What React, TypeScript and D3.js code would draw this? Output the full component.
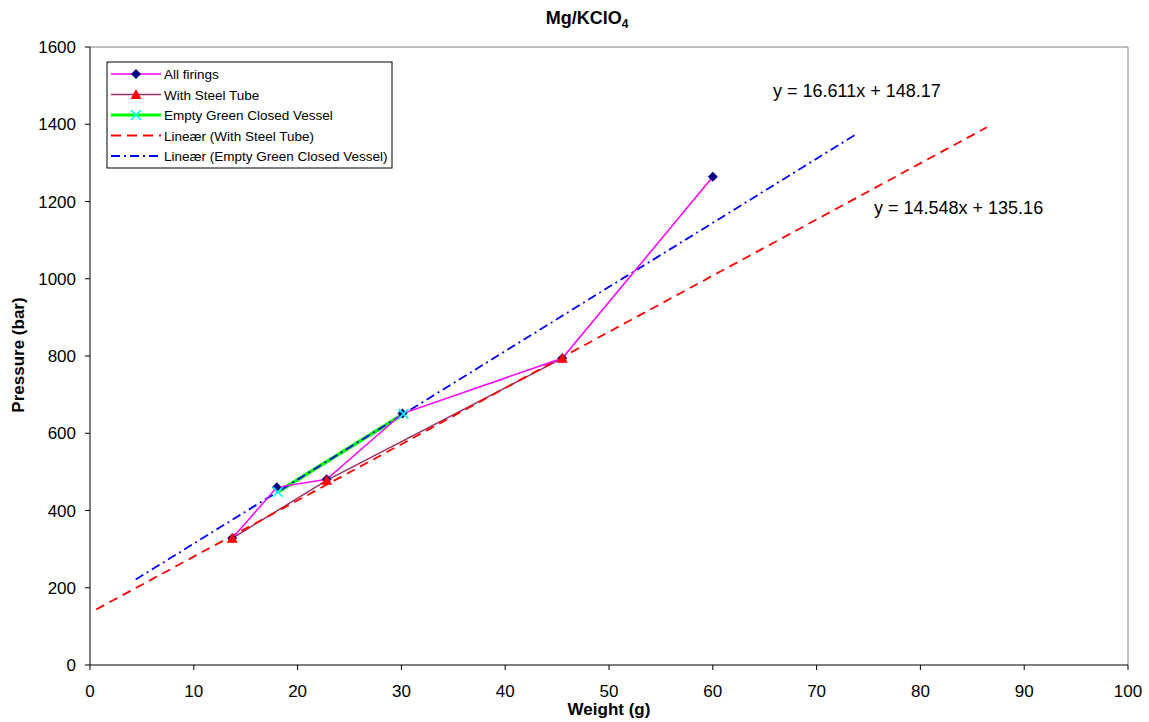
import React from "react";
import * as d3 from "d3";

const allFiringsX = [13.7, 18.0, 22.8, 30.1, 45.5, 60.0];
const allFiringsY = [328, 460, 481, 651, 794, 1264];
const steelX = [13.7, 22.8, 45.5];
const steelY = [328, 478, 794];
const vesselX = [18.1, 30.2];
const vesselY = [448, 650];
const steelFit = { slope: 14.548, intercept: 135.16, from: 0.6, to: 86.4 };
const vesselFit = { slope: 16.611, intercept: 148.17, from: 4.4, to: 73.8 };
const xTicks = [0, 10, 20, 30, 40, 50, 60, 70, 80, 90, 100];
const yTicks = [0, 200, 400, 600, 800, 1000, 1200, 1400, 1600];

const W = 1149, H = 722;
const L = 90, R = 1128, T = 47, B = 665;
const FONT = "'Liberation Sans', Arial, sans-serif";

export default function App() {
  const x = d3.scaleLinear().domain([0, 100]).range([L, R]);
  const y = d3.scaleLinear().domain([0, 1600]).range([B, T]);
  const line = d3.line<[number, number]>().x(d => x(d[0])).y(d => y(d[1]));
  const zip = (a: number[], b: number[]) => a.map((v, i) => [v, b[i]] as [number, number]);
  const fitPts = (f: typeof steelFit) => [[f.from, f.slope * f.from + f.intercept], [f.to, f.slope * f.to + f.intercept]] as [number, number][];

  const diamond = (cx: number, cy: number, k: string) => (
    <path key={k} d={`M${cx},${cy - 5}L${cx + 5},${cy}L${cx},${cy + 5}L${cx - 5},${cy}Z`} fill="#000080" />
  );
  const tri = (cx: number, cy: number, k: string) => (
    <path key={k} d={`M${cx},${cy - 5.5}L${cx + 5.5},${cy + 4.5}L${cx - 5.5},${cy + 4.5}Z`} fill="#ff0000" />
  );
  const cross = (cx: number, cy: number, k: string) => (
    <g key={k} stroke="#00ffff" strokeWidth={1.6}>
      <line x1={cx - 5} y1={cy - 5} x2={cx + 5} y2={cy + 5} />
      <line x1={cx - 5} y1={cy + 5} x2={cx + 5} y2={cy - 5} />
    </g>
  );

  const legendItems = [
    { label: "All firings", color: "#ff00ff", w: 1.5, dash: "", marker: "d" },
    { label: "With Steel Tube", color: "#993366", w: 1.5, dash: "", marker: "t" },
    { label: "Empty Green Closed Vessel", color: "#00ff00", w: 3, dash: "", marker: "x" },
    { label: "Lineær (With Steel Tube)", color: "#ff0000", w: 2, dash: "10,6", marker: "" },
    { label: "Lineær (Empty Green Closed Vessel)", color: "#0000ff", w: 2, dash: "9,4,2,4", marker: "" },
  ];

  return (
    <svg width={W} height={H} style={{ display: "block", position: "absolute", left: 0, top: 0 }} fontFamily={FONT}>
      <rect width={W} height={H} fill="#fff" />
      <text x={587} y={24} textAnchor="middle" fontSize={18} fontWeight="bold">
        Mg/KClO<tspan fontSize={12} dy={4}>4</tspan>
      </text>
      {/* frame */}
      <line x1={L} y1={T} x2={R} y2={T} stroke="#808080" />
      <line x1={R} y1={T} x2={R} y2={B} stroke="#808080" />
      <line x1={L} y1={T} x2={L} y2={B} stroke="#000" />
      <line x1={L} y1={B} x2={R} y2={B} stroke="#000" />
      {xTicks.map(t => (
        <g key={"x" + t}>
          <line x1={x(t)} y1={B} x2={x(t)} y2={B + 5} stroke="#000" />
          <text x={x(t)} y={B + 32} textAnchor="middle" fontSize={17}>{t}</text>
        </g>
      ))}
      {yTicks.map(t => (
        <g key={"y" + t}>
          <line x1={L - 5} y1={y(t)} x2={L} y2={y(t)} stroke="#000" />
          <text x={L - 14} y={y(t) + 6} textAnchor="end" fontSize={17}>{t}</text>
        </g>
      ))}
      <text x={609} y={715} textAnchor="middle" fontSize={17} fontWeight="bold">Weight (g)</text>
      <text transform={`translate(24,355) rotate(-90)`} textAnchor="middle" fontSize={17} fontWeight="bold">Pressure (bar)</text>

      {/* series */}
      <path d={line(zip(steelX, steelY)) || ""} fill="none" stroke="#993366" strokeWidth={1.5} />
      <path d={line(fitPts(steelFit)) || ""} fill="none" stroke="#ff0000" strokeWidth={1.8} strokeDasharray="9,6" />
      <path d={line(zip(vesselX, vesselY)) || ""} fill="none" stroke="#00ff00" strokeWidth={3.5} />
      <path d={line(fitPts(vesselFit)) || ""} fill="none" stroke="#0000ff" strokeWidth={1.8} strokeDasharray="9,4,2,4" />
      <path d={line(zip(allFiringsX, allFiringsY)) || ""} fill="none" stroke="#ff00ff" strokeWidth={1.5} />
      {allFiringsX.map((v, i) => diamond(x(v), y(allFiringsY[i]), "d" + i))}
      {steelX.map((v, i) => tri(x(v), y(steelY[i]), "t" + i))}
      {vesselX.map((v, i) => cross(x(v), y(vesselY[i]), "c" + i))}

      <text x={773} y={97} fontSize={18}>y = 16.611x + 148.17</text>
      <text x={874} y={214} fontSize={18}>y = 14.548x + 135.16</text>

      {/* legend */}
      <rect x={107} y={62} width={285} height={106} fill="#fff" stroke="#000" />
      {legendItems.map((it, i) => {
        const ly = 74 + i * 20.5;
        return (
          <g key={"l" + i}>
            <line x1={111} y1={ly} x2={161} y2={ly} stroke={it.color} strokeWidth={it.w} strokeDasharray={it.dash} />
            {it.marker === "d" && diamond(136, ly, "ld")}
            {it.marker === "t" && tri(136, ly, "lt")}
            {it.marker === "x" && cross(136, ly, "lx")}
            <text x={164} y={ly + 5} fontSize={13.5}>{it.label}</text>
          </g>
        );
      })}
    </svg>
  );
}
